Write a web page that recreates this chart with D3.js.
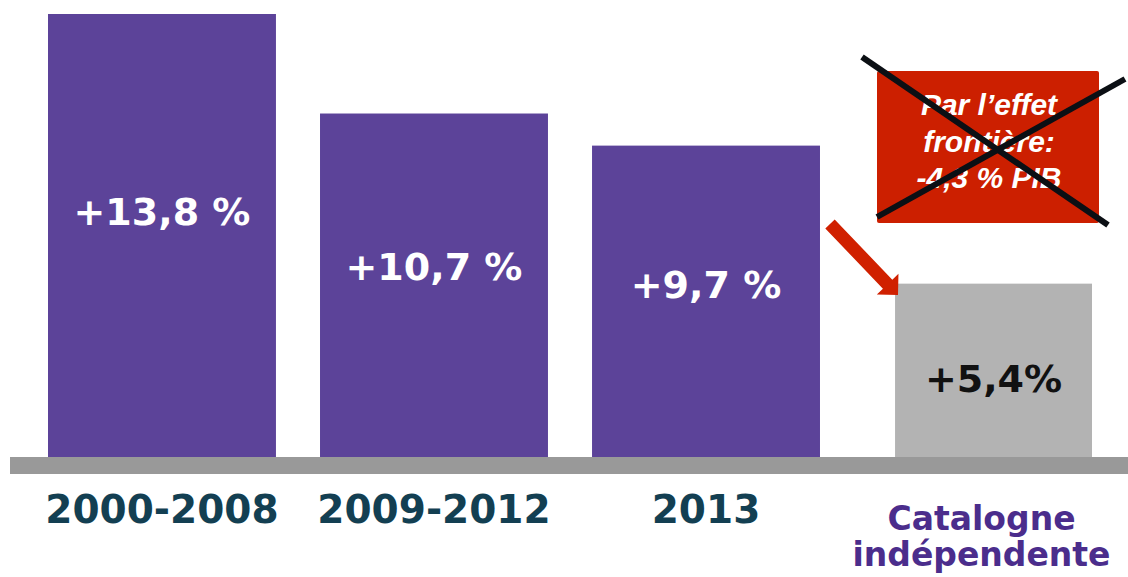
<!DOCTYPE html>
<html>
<head>
<meta charset="utf-8">
<script src="https://cdn.jsdelivr.net/npm/d3@7"></script>
<style>
  body { margin: 0; background: #fff; }
  svg { display: block; }
</style>
</head>
<body>
<svg width="1128" height="577"></svg>
<script>
const categories = ["2000-2008", "2009-2012", "2013", "Catalogne indépendente"];
const growth = [13.8, 10.7, 9.7, 5.4];
const valueLabels = ["+13,8 %", "+10,7 %", "+9,7 %", "+5,4%"];
const noteLines = ["Par l’effet", "frontière:", "-4,3 % PIB"];

const svg = d3.select("svg");
const width = 1128;
const baseY = 457;

const xScale = d3.scaleBand().domain(categories).range([48, 1092]).paddingInner(0.162).paddingOuter(0);
const yScale = d3.scaleLinear().domain([0, d3.max(growth)]).range([baseY, 14]);

const isLast = (i) => i === categories.length - 1;
const barX = (d, i) => xScale(d) + (isLast(i) ? 31 : 0);
const barW = (d, i) => xScale.bandwidth() - (isLast(i) ? 31 : 0);

// bars
svg.selectAll(".bar")
	.data(categories)
	.enter()
	.append("rect")
	.attr("x", barX)
	.attr("width", barW)
	.attr("y", (d, i) => yScale(growth[i]))
	.attr("height", (d, i) => baseY - yScale(growth[i]))
	.attr("fill", (d, i) => (isLast(i) ? "#b3b3b3" : "#5c4399"));

// value labels inside bars
svg.selectAll(".val")
	.data(valueLabels)
	.enter()
	.append("text")
	.attr("x", (d, i) => barX(categories[i], i) + barW(categories[i], i) / 2)
	.attr("y", (d, i) => {
		const top = yScale(growth[i]);
		return isLast(i) ? top + (baseY - top) / 2 + 22 : top + (baseY - top) * 0.45 + 12;
	})
	.attr("text-anchor", "middle")
	.style("font", "bold 38px 'DejaVu Sans'")
	.attr("fill", (d, i) => (isLast(i) ? "#111" : "#fff"))
	.text((d) => d);

// base band
svg.append("rect").attr("x", 10).attr("y", baseY).attr("width", width - 10).attr("height", 17).attr("fill", "#999");

// category labels
const cat = svg.selectAll(".cat")
	.data(categories)
	.enter()
	.append("text")
	.attr("text-anchor", "middle")
	.attr("x", (d, i) => barX(d, i) + barW(d, i) / 2 - (isLast(i) ? 12 : 0))
	.attr("y", 523)
	.style("font", (d, i) => (isLast(i) ? "bold 33px 'DejaVu Sans'" : "bold 39px 'DejaVu Sans'"))
	.attr("fill", (d, i) => (isLast(i) ? "#4b2d8c" : "#133f52"));

cat.each(function (d, i) {
	const t = d3.select(this);
	if (isLast(i)) {
		const words = d.split(" ");
		t.attr("y", 530);
		t.selectAll("tspan")
			.data(words)
			.enter()
			.append("tspan")
			.attr("x", t.attr("x"))
			.attr("dy", (w, j) => (j === 0 ? 0 : 36))
			.text((w) => w);
	} else {
		t.text(d);
	}
});

// arrow towards the last bar
const tip = [898, 295];
const start = [830, 224];
const ang = Math.atan2(tip[1] - start[1], tip[0] - start[0]);
const headL = 15, headW = 15, shaftW = 13;
const ux = Math.cos(ang), uy = Math.sin(ang), px = -uy, py = ux;
const bx = tip[0] - ux * headL, by = tip[1] - uy * headL;
const arrowPts = [
	[start[0] + px * shaftW / 2, start[1] + py * shaftW / 2],
	[bx + px * shaftW / 2, by + py * shaftW / 2],
	[bx + px * headW, by + py * headW],
	tip,
	[bx - px * headW, by - py * headW],
	[bx - px * shaftW / 2, by - py * shaftW / 2],
	[start[0] - px * shaftW / 2, start[1] - py * shaftW / 2]
];
svg.append("path").attr("d", d3.line()(arrowPts) + "Z").attr("fill", "#d02000");

// crossed-out note box
svg.append("rect").attr("x", 877).attr("y", 71).attr("width", 222).attr("height", 152).attr("rx", 2).attr("fill", "#cc1f00");
svg.append("g")
	.selectAll("text")
	.data(noteLines)
	.enter()
	.append("text")
	.attr("x", 989)
	.attr("y", (d, i) => 115 + i * 36.5)
	.attr("text-anchor", "middle")
	.style("font", "italic bold 30px 'Liberation Sans'")
	.attr("fill", "#fff")
	.text((d) => d);

svg.append("line").attr("x1", 862).attr("y1", 57).attr("x2", 1108).attr("y2", 225).attr("stroke", "#0b0f14").attr("stroke-width", 6);
svg.append("line").attr("x1", 877).attr("y1", 217).attr("x2", 1125).attr("y2", 79).attr("stroke", "#0b0f14").attr("stroke-width", 6);
</script>
</body>
</html>
